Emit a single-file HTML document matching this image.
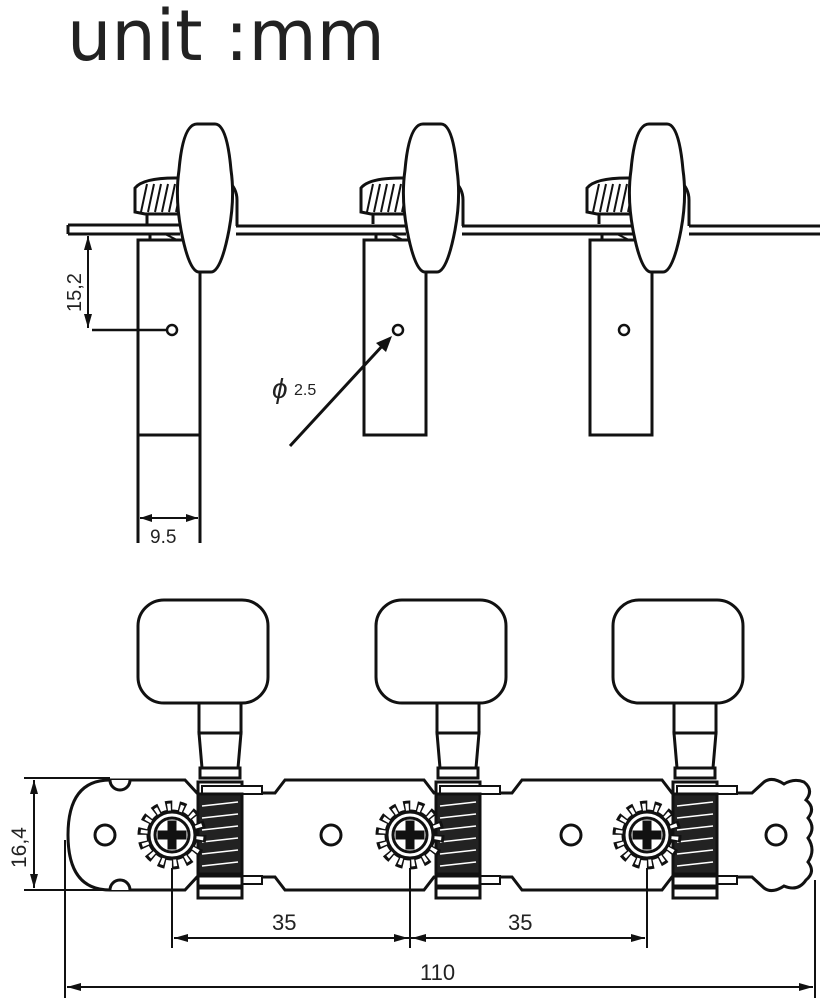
<!DOCTYPE html>
<html><head><style>
html,body{margin:0;padding:0;background:#fff}
svg{display:block}
text{font-family:"Liberation Sans",sans-serif;fill:#222}
</style></head><body>
<svg width="828" height="1000" viewBox="0 0 828 1000" xmlns="http://www.w3.org/2000/svg">
<defs>
<g id="topunit" fill="none" stroke="#111" stroke-width="3">
  <path d="M-70,212 L-70,188 Q-62,178 -30,178 L-22,178 L-22,214 L-60,214 Z" fill="#fff"/>
  <g stroke-width="2">
    <line x1="-64" y1="212" x2="-58" y2="184"/><line x1="-57" y1="212" x2="-51" y2="184"/>
    <line x1="-50" y1="212" x2="-44" y2="184"/><line x1="-43" y1="212" x2="-37" y2="184"/>
    <line x1="-36" y1="212" x2="-30" y2="184"/><line x1="-29" y1="212" x2="-23" y2="184"/>
  </g>
  <line x1="-58" y1="215" x2="-58" y2="224"/>
  <rect x="-67" y="240" width="62" height="195" fill="#fff"/>
  <line x1="-55" y1="234" x2="-55" y2="240"/>
  <line x1="-40" y1="234" x2="-28" y2="240" stroke-width="2"/>
  <path d="M22,180 Q32,188 32,200 L32,226"/>
  <path d="M-8,124 L10,124 Q22,124 26,170 Q30,198 24,230 Q16,272 6,272 L-6,272 Q-16,272 -24,230 Q-30,198 -26,170 Q-22,124 -8,124 Z" fill="#fff"/>
  <circle cx="-33" cy="330" r="5" stroke-width="2.5"/>
</g>
<g id="gear">
  <circle r="24" fill="#fff" stroke="#111" stroke-width="3"/>
  <circle r="28" fill="none" stroke="#111" stroke-width="13" stroke-dasharray="6.3 6.27"/>
  <circle r="28" fill="none" stroke="#fff" stroke-width="7" stroke-dasharray="3.3 9.27" stroke-dashoffset="-1.5"/>
  <circle r="23" fill="#fff"/>
  <circle r="17" fill="#fff" stroke="#111" stroke-width="3"/>
  <path d="M-3,-13 h6 v10 h10 v6 h-10 v10 h-6 v-10 h-10 v-6 h10 z" fill="#111"/>
</g>
<g id="botunit" stroke="#111" stroke-width="3" fill="#fff">
  <rect x="-34" y="600" width="130" height="103" rx="26"/>
  <rect x="27" y="703" width="42" height="30"/>
  <path d="M27,733 L69,733 L66,768 L30,768 Z"/>
  <rect x="28" y="768" width="40" height="10"/>
  <rect x="26" y="782" width="44" height="12"/>
  <rect x="30" y="786" width="60" height="8" stroke-width="2"/>
  <rect x="26" y="794" width="44" height="80" fill="#222"/>
  <g stroke="#fff" stroke-width="1.5">
    <line x1="30" y1="806" x2="66" y2="802"/><line x1="30" y1="818" x2="66" y2="814"/>
    <line x1="30" y1="830" x2="66" y2="826"/><line x1="30" y1="842" x2="66" y2="838"/>
    <line x1="30" y1="854" x2="66" y2="850"/><line x1="30" y1="866" x2="66" y2="862"/>
  </g>
  <rect x="30" y="876" width="60" height="8" stroke-width="2"/>
  <rect x="26" y="876" width="44" height="10"/>
  <rect x="26" y="888" width="44" height="10"/>
  <use href="#gear" x="0" y="835"/>
</g>
</defs>

<text x="67" y="60" font-size="70" style="font-family:'DejaVu Sans','Liberation Sans',sans-serif">unit :mm</text>

<g fill="none" stroke="#111" stroke-width="3">
  <line x1="68" y1="225" x2="180" y2="225"/><line x1="68" y1="234" x2="180" y2="234"/>
  <line x1="68" y1="225" x2="68" y2="234"/>
  <line x1="236" y1="226" x2="406" y2="226"/><line x1="236" y1="234" x2="406" y2="234"/>
  <line x1="462" y1="226" x2="634" y2="226"/><line x1="462" y1="234" x2="634" y2="234"/>
  <line x1="689" y1="226" x2="820" y2="226"/><line x1="689" y1="234" x2="820" y2="234"/>
</g>
<use href="#topunit" x="205"/>
<use href="#topunit" x="431"/>
<use href="#topunit" x="657"/>
<g fill="none" stroke="#111" stroke-width="3">
  <line x1="138" y1="435" x2="138" y2="543"/><line x1="200" y1="435" x2="200" y2="543"/>
  <line x1="92" y1="330" x2="166" y2="330" stroke-width="2.5"/>
  <line x1="88" y1="236" x2="88" y2="328" stroke-width="2"/>
  <line x1="140" y1="518" x2="198" y2="518" stroke-width="2"/>
  <line x1="290" y1="446" x2="384" y2="344" stroke-width="3"/>
</g>
<polygon points="88,236 84,250 92,250" fill="#111"/>
<polygon points="88,328 84,314 92,314" fill="#111"/>
<polygon points="140,518 152,514 152,522" fill="#111"/>
<polygon points="198,518 186,514 186,522" fill="#111"/>
<polygon points="392,336 376,343 386,352" fill="#111"/>
<text transform="translate(81,312) rotate(-90)" font-size="20">15,2</text>
<text x="150" y="543" font-size="19">9.5</text>
<text x="272" y="398" font-size="28" font-style="italic">ϕ</text>
<text x="294" y="395" font-size="16">2.5</text>

<g fill="#fff" stroke="#111" stroke-width="3">
  <path d="M110,780 L185,780 L197,793 L275,793 L285,780 L424,780 L434,793 L512,793 L522,780 L662,780 L672,793 L752,793 L764,782 Q772,776 784,784 Q794,778 804,782 Q814,790 806,800 Q816,808 808,818 Q816,828 808,838 Q816,850 808,862 Q816,872 806,880 Q798,892 784,886 Q772,894 764,888 L752,877 L672,877 L662,890 L522,890 L512,877 L434,877 L424,890 L285,890 L275,877 L197,877 L185,890 L110,890 Q68,890 68,835 Q68,780 110,780 Z"/>
  <path d="M110,780 A10,10 0 0 0 130,780" />
  <path d="M110,890 A10,10 0 0 1 130,890" />
  <circle cx="105" cy="835" r="10"/>
  <circle cx="331" cy="835" r="10"/>
  <circle cx="571" cy="835" r="10"/>
  <circle cx="776" cy="835" r="10"/>
</g>
<use href="#botunit" x="172"/>
<use href="#botunit" x="410"/>
<use href="#botunit" x="647"/>

<g stroke="#111" stroke-width="2" fill="none">
  <line x1="24" y1="778" x2="110" y2="778"/><line x1="24" y1="890" x2="110" y2="890"/>
  <line x1="34" y1="780" x2="34" y2="888"/>
  <line x1="172" y1="868" x2="172" y2="948"/>
  <line x1="410" y1="868" x2="410" y2="948"/>
  <line x1="647" y1="868" x2="647" y2="948"/>
  <line x1="174" y1="938" x2="645" y2="938"/>
  <line x1="65" y1="840" x2="65" y2="998"/>
  <line x1="815" y1="880" x2="815" y2="998"/>
  <line x1="67" y1="987" x2="813" y2="987"/>
</g>
<g fill="#111">
  <polygon points="34,780 30,794 38,794"/><polygon points="34,888 30,874 38,874"/>
  <polygon points="174,938 188,934 188,942"/><polygon points="408,938 394,934 394,942"/>
  <polygon points="412,938 426,934 426,942"/><polygon points="645,938 631,934 631,942"/>
  <polygon points="67,987 81,983 81,991"/><polygon points="813,987 799,983 799,991"/>
</g>
<text transform="translate(26,868) rotate(-90)" font-size="21">16,4</text>
<text x="272" y="930" font-size="22">35</text>
<text x="508" y="930" font-size="22">35</text>
<text x="420" y="980" font-size="22">110</text>
</svg>
</body></html>
